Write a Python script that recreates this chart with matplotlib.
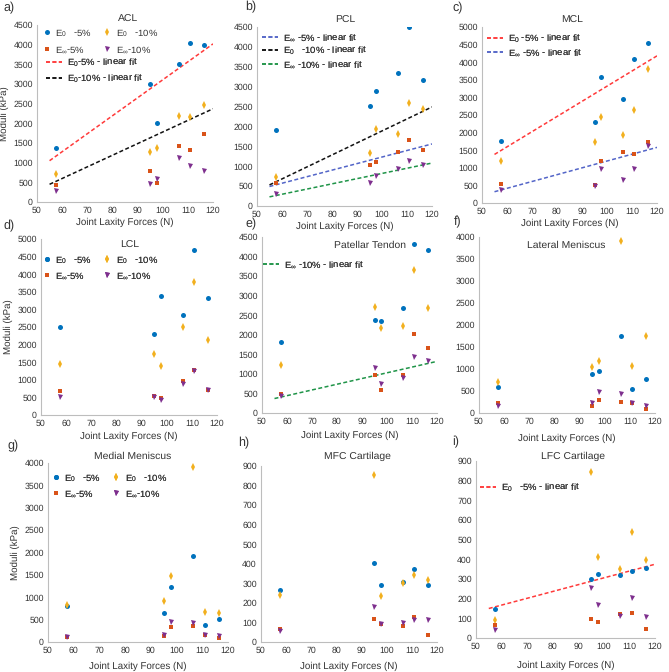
import matplotlib

matplotlib.use("Agg")
import matplotlib.pyplot as plt
from matplotlib.lines import Line2D

plt.rcParams["font.family"] = ["Liberation Sans", "DejaVu Sans"]
plt.rcParams["mathtext.fontset"] = "custom"
plt.rcParams["mathtext.rm"] = "Liberation Sans"
plt.rcParams["mathtext.it"] = "Liberation Sans"
plt.rcParams["mathtext.default"] = "regular"
plt.rcParams["text.hinting"] = "no_hinting"

W, H = 669, 672

# joint laxity forces (N) shared by all panels
FORCE = [57.5, 95.0, 97.7, 106.4, 110.9, 116.4]
FIT_X = [55, 120]

# ACL
ACL_E0_5 = [1380, 3000, 2000, 3520, 4040, 4000]
ACL_E0_10 = [700, 1260, 1380, 2190, 2150, 2460]
ACL_EI_5 = [420, 800, 490, 1420, 1320, 1720]
ACL_EI_10 = [290, 470, 580, 1130, 910, 800]
ACL_FIT_E0_5 = [1050, 4020]
ACL_FIT_E0_10 = [450, 2370]

# PCL
PCL_E0_5 = [1920, 2510, 2890, 3350, 4500, 3180]
PCL_E0_10 = [720, 1330, 1940, 1810, 2600, 2450]
PCL_EI_5 = [570, 1020, 1100, 1350, 1660, 1410]
PCL_EI_10 = [310, 580, 760, 920, 1130, 1040]
PCL_FIT_EI_5 = [490, 1560]
PCL_FIT_E0_10 = [530, 2490]
PCL_FIT_EI_10 = [230, 1080]

# MCL
MCL_E0_5 = [1750, 2310, 3570, 2960, 4100, 4550]
MCL_E0_10 = [1200, 1720, 2450, 1930, 2640, 3800]
MCL_EI_5 = [530, 520, 1190, 1440, 1400, 1720]
MCL_EI_10 = [380, 490, 970, 660, 960, 1620]
MCL_FIT_E0_5 = [1380, 4180]
MCL_FIT_EI_5 = [320, 1580]

# LCL
LCL_E0_5 = [2510, 2310, 3380, 2830, 4700, 3310]
LCL_E0_10 = [1440, 1740, 1400, 2500, 3790, 2140]
LCL_EI_5 = [670, 550, 490, 970, 1290, 720]
LCL_EI_10 = [510, 520, 440, 880, 1260, 700]

# Patellar tendon
PT_E0_5 = [1820, 2380, 2340, 2680, 4320, 4160]
PT_E0_10 = [1220, 2700, 2180, 2220, 3660, 2690]
PT_EI_5 = [490, 980, 600, 960, 2020, 1660]
PT_EI_10 = [440, 1140, 730, 900, 1420, 1340]
PT_FIT_EI_10 = [370, 1320]

# Lateral meniscus
LM_E0_5 = [580, 880, 960, 1760, 550, 780]
LM_E0_10 = [700, 1040, 1190, 3920, 1070, 1740]
LM_EI_5 = [230, 160, 290, 240, 220, 100]
LM_EI_10 = [160, 220, 480, 430, 220, 170]

# Medial meniscus
MM_E0_5 = [800, 650, 1240, 1930, 380, 520]
MM_E0_10 = [820, 910, 1470, 3900, 670, 650]
MM_EI_5 = [110, 140, 330, 360, 150, 80]
MM_EI_10 = [110, 150, 450, 430, 160, 130]

# MFC cartilage
MFC_E0_5 = [265, 405, 290, 307, 372, 292]
MFC_E0_10 = [240, 855, 237, 303, 343, 318]
MFC_EI_5 = [68, 120, 92, 80, 128, 38]
MFC_EI_10 = [57, 178, 92, 95, 110, 110]

# LFC cartilage
LFC_E0_5 = [150, 300, 327, 318, 342, 355]
LFC_E0_10 = [92, 843, 413, 352, 540, 398]
LFC_EI_5 = [65, 98, 82, 120, 128, 48]
LFC_EI_10 = [42, 252, 167, 112, 203, 105]
LFC_FIT_E0_5 = [150, 375]

C_E0_5 = "#0072bd"
C_E0_10 = "#f2b01e"
C_EI_5 = "#d95319"
C_EI_10 = "#7e2f8e"
RED_FIT = "#ff3a3a"
BLACK_FIT = "#111111"
BLUE_FIT = "#5365c8"
GREEN_FIT = "#1f9448"

LBL = [r"E$_0$   -5%", r"E$_\infty$-5%", r"E$_0$   -10%", r"E$_\infty$-10%"]
SPINE = "#bdbdbd"
TXT = "#333333"

fig = plt.figure(figsize=(W / 100, H / 100), dpi=100)


def rect(l, r, t, b):
    return [l / W, 1 - b / H, (r - l) / W, (b - t) / H]


def make_panel(box, ymax, ystep, e0_5, e0_10, ei_5, ei_10, pad):
    ax = fig.add_axes(rect(*box))
    ax.plot(FORCE, e0_5, "o", color=C_E0_5, ms=3.6, mew=0, zorder=3)
    ax.plot(FORCE, e0_10, "d", color=C_E0_10, ms=3.9, mew=0, zorder=3)
    ax.plot(FORCE, ei_5, "s", color=C_EI_5, ms=3.0, mew=0, zorder=3)
    ax.plot(FORCE, ei_10, "v", color=C_EI_10, ms=3.6, mew=0, zorder=3)
    ax.set_xlim(50, 120)
    ax.set_ylim(0, ymax)
    ax.set_xticks(range(50, 121, 10))
    ax.set_yticks(range(0, ymax + 1, ystep))
    for s in ("top", "right"):
        ax.spines[s].set_visible(False)
    for s in ("left", "bottom"):
        ax.spines[s].set_color(SPINE)
        ax.spines[s].set_linewidth(0.8)
    ax.tick_params(length=0, labelsize=6.3, labelcolor=TXT, pad=3)
    ax.set_xlabel("Joint Laxity Forces (N)", fontsize=7, color=TXT, labelpad=pad)
    ax.patch.set_alpha(0)
    return ax


def fit(ax, ys, color):
    ax.plot(FIT_X, ys, "--", color=color, lw=1.1, dashes=(2.6, 1.6), zorder=2)


def line_handle(color):
    return Line2D([], [], ls="--", color=color, lw=1.1, dashes=(2.6, 1.6))


def marker_handles():
    return [Line2D([], [], ls="none", marker="o", color=C_E0_5, ms=3.6, mew=0),
            Line2D([], [], ls="none", marker="s", color=C_EI_5, ms=3.0, mew=0),
            Line2D([], [], ls="none", marker="d", color=C_E0_10, ms=3.9, mew=0),
            Line2D([], [], ls="none", marker="v", color=C_EI_10, ms=3.6, mew=0)]


def legend_at(ax, handles, labels, x, y, ncol=1, hl=1.0, cs=1.0, ls=0.45):
    leg = ax.legend(handles, labels, loc="upper left", bbox_to_anchor=(x / W, 1 - y / H),
                    bbox_transform=fig.transFigure, frameon=False, borderpad=0,
                    borderaxespad=0, ncol=ncol, fontsize=6.8, handlelength=hl,
                    handletextpad=0.5, columnspacing=cs, labelspacing=ls)
    for t in leg.get_texts():
        t.set_color(TXT)
    ax.add_artist(leg)
    return leg


def title(x, y, s):
    fig.text(x / W, 1 - y / H, s, fontsize=7.5, color=TXT, ha="center", va="center")


def letter(x, y, s):
    fig.text(x / W, 1 - y / H, s, fontsize=9, color=TXT, ha="left", va="center")


# a) ACL
ax = make_panel((37, 213, 25, 202), 4500, 500, ACL_E0_5, ACL_E0_10, ACL_EI_5, ACL_EI_10, 2)
fit(ax, ACL_FIT_E0_5, RED_FIT)
fit(ax, ACL_FIT_E0_10, BLACK_FIT)
ax.set_ylabel("Moduli (kPa)", fontsize=7, color=TXT, labelpad=3)
legend_at(ax, marker_handles(), LBL, 43, 27, ncol=2, hl=0.8, cs=1.2, ls=0.6)
legend_at(ax, [line_handle(RED_FIT), line_handle(BLACK_FIT)],
          [r"E$_0$-5% - linear fit", r"E$_0$-10% - linear fit"], 46, 57, hl=1.7)
title(128, 19, "ACL")
letter(3, 8, "a)")

# b) PCL
ax = make_panel((257, 432, 27, 206), 4500, 500, PCL_E0_5, PCL_E0_10, PCL_EI_5, PCL_EI_10, 2)
fit(ax, PCL_FIT_EI_5, BLUE_FIT)
fit(ax, PCL_FIT_E0_10, BLACK_FIT)
fit(ax, PCL_FIT_EI_10, GREEN_FIT)
legend_at(ax, [line_handle(BLUE_FIT), line_handle(BLACK_FIT), line_handle(GREEN_FIT)],
          [r"E$_\infty$ -5% - linear fit", r"E$_0$   -10% - linear fit",
           r"E$_\infty$ -10% - linear fit"], 262, 32, hl=1.7, ls=0.25)
title(345, 20, "PCL")
letter(245, 7, "b)")

# c) MCL
ax = make_panel((482, 657, 27, 203), 5000, 500, MCL_E0_5, MCL_E0_10, MCL_EI_5, MCL_EI_10, 2)
fit(ax, MCL_FIT_E0_5, RED_FIT)
fit(ax, MCL_FIT_EI_5, BLUE_FIT)
legend_at(ax, [line_handle(RED_FIT), line_handle(BLUE_FIT)],
          [r"E$_0$ -5% - linear fit", r"E$_\infty$ -5% - linear fit"], 487, 33, hl=1.7,
          ls=0.25)
title(572, 20, "MCL")
letter(452, 8, "c)")

# d) LCL
ax = make_panel((41, 217, 239, 415), 5000, 500, LCL_E0_5, LCL_E0_10, LCL_EI_5, LCL_EI_10, 3)
ax.set_ylabel("Moduli (kPa)", fontsize=7, color=TXT, labelpad=3)
legend_at(ax, marker_handles(), LBL, 43, 254, ncol=2, hl=0.8, cs=1.2, ls=0.5)
title(130, 245, "LCL")
letter(3, 226, "d)")

# e) Patellar tendon
ax = make_panel((262, 437, 237, 413), 4500, 500, PT_E0_5, PT_E0_10, PT_EI_5, PT_EI_10, 4)
fit(ax, PT_FIT_EI_10, GREEN_FIT)
legend_at(ax, [line_handle(GREEN_FIT)], [r"E$_\infty$ -10% - linear fit"], 263, 259, hl=1.7)
title(370, 245, "Patellar Tendon")
letter(245, 224, "e)")

# f) Lateral meniscus
ax = make_panel((479, 655, 237, 413), 4000, 500, LM_E0_5, LM_E0_10, LM_EI_5, LM_EI_10, 6)
title(566, 245, "Lateral Meniscus")
letter(454, 222, "f)")

# g) Medial meniscus
ax = make_panel((48, 228, 463, 642), 4000, 500, MM_E0_5, MM_E0_10, MM_EI_5, MM_EI_10, 5)
ax.set_ylabel("Moduli (kPa)", fontsize=7, color=TXT, labelpad=3)
legend_at(ax, marker_handles(), LBL, 52, 472, ncol=2, hl=0.8, cs=1.2, ls=0.5)
title(133, 456, "Medial Meniscus")
letter(7, 446, "g)")

# h) MFC cartilage
ax = make_panel((261, 437, 466, 642), 900, 100, MFC_E0_5, MFC_E0_10, MFC_EI_5, MFC_EI_10, 5)
title(357, 456, "MFC Cartilage")
letter(238, 443, "h)")

# i) LFC cartilage
ax = make_panel((476, 655, 461, 638), 900, 100, LFC_E0_5, LFC_E0_10, LFC_EI_5, LFC_EI_10, 7)
fit(ax, LFC_FIT_E0_5, RED_FIT)
legend_at(ax, [line_handle(RED_FIT)], [r"E$_0$   -5% - linear fit"], 480, 482, hl=1.7)
title(573, 456, "LFC Cartilage")
letter(452, 442, "i)")

fig.savefig("out.png", dpi=100)
